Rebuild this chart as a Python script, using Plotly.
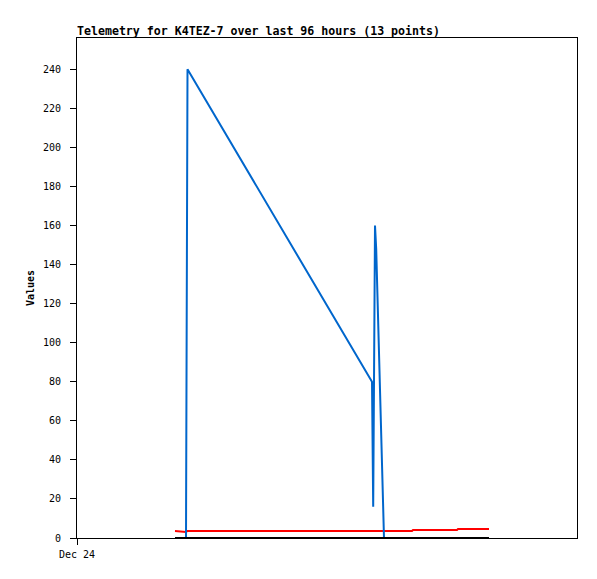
import plotly.graph_objects as go

# Timestamps of the 13 telemetry packets
times = [
    "2023-12-24 18:48:58", "2023-12-24 20:55:41", "2023-12-24 21:12:58",
    "2023-12-26 08:38:24", "2023-12-26 08:52:13", "2023-12-26 09:12:58",
    "2023-12-26 09:26:47", "2023-12-26 10:56:38", "2023-12-26 16:19:12",
    "2023-12-26 16:30:43", "2023-12-27 00:57:36", "2023-12-27 01:09:07",
    "2023-12-27 07:06:14",
]
blue_vals = [0, 0, 240, 80, 16, 160, 148, 0, 0, 0, 0, 0, 0]
red_vals = [3.6, 3.1, 3.6, 3.6, 3.6, 3.6, 3.6, 3.6, 3.6, 4.1, 4.1, 4.6, 4.6]
black_vals = [0] * 13

x_range = ["2023-12-24 00:00:00", "2023-12-28 00:00:00"]
x_tickvals = ["2023-12-24 00:00:00"]
x_ticktext = ["Dec 24"]
y_tickvals = list(range(0, 241, 20))

title_text = "Telemetry for K4TEZ-7 over last 96 hours (13 points)"
y_title = "Values"

mono = "DejaVu Sans Mono"

# page body has an 8px margin; compensate so the plot box lands at 77..577 x 38..538
W, H = 589, 571
OFF = 8

fig = go.Figure()
fig.add_trace(go.Scatter(x=times, y=red_vals, mode="lines",
                         line=dict(color="#ff0000", width=2), showlegend=False))
fig.add_trace(go.Scatter(x=times, y=blue_vals, mode="lines",
                         line=dict(color="#0066cc", width=2), showlegend=False))
fig.add_trace(go.Scatter(x=times, y=black_vals, mode="lines",
                         line=dict(color="#000000", width=2), showlegend=False))

fig.update_layout(
    width=W, height=H,
    margin=dict(l=77 - OFF, r=W + OFF - 577, t=38 - OFF, b=H + OFF - 538),
    paper_bgcolor="white", plot_bgcolor="white",
    title=dict(text="<b>" + title_text + "</b>", x=(77 - OFF) / W, xanchor="left",
               y=1 - (31 - OFF) / H, yanchor="middle", yref="container",
               font=dict(family=mono, size=11.6, color="black")),
    font=dict(family=mono, size=10, color="black"),
)
fig.update_xaxes(
    type="date", range=x_range, tickmode="array",
    tickvals=x_tickvals, ticktext=x_ticktext,
    showgrid=False, zeroline=False,
    showline=True, linecolor="black", linewidth=1, mirror=True,
    ticks="outside", ticklen=6, tickcolor="black",
    tickfont=dict(family=mono, size=10, color="black"),
    ticklabelstandoff=1,
)
fig.update_yaxes(
    range=[0, 256], tickmode="array", tickvals=y_tickvals,
    showgrid=False, zeroline=False,
    showline=True, linecolor="black", linewidth=1, mirror=True,
    ticks="outside", ticklen=6, tickcolor="black",
    tickfont=dict(family=mono, size=10, color="black"),
    ticklabelstandoff=7,
    title=dict(text="<b>" + y_title + "</b>", standoff=6,
               font=dict(family=mono, size=10, color="black")),
)

fig.write_html("out.html")
